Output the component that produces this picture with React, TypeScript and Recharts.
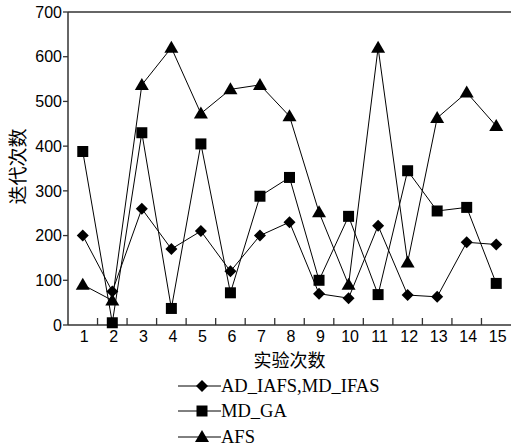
import { LineChart, Line, XAxis, YAxis, ReferenceLine, Legend, Label } from 'recharts';

const categories = ['1', '2', '3', '4', '5', '6', '7', '8', '9', '10', '11', '12', '13', '14', '15'];
const adIafs = [200, 75, 260, 170, 210, 120, 200, 230, 70, 60, 222, 67, 63, 185, 180];
const mdGa = [388, 5, 430, 37, 405, 72, 288, 330, 100, 243, 68, 345, 255, 263, 93];
const afs = [90, 55, 537, 620, 473, 527, 537, 467, 252, 90, 620, 140, 463, 520, 445];
const yTicks = [0, 100, 200, 300, 400, 500, 600, 700];

const seriesNames = ['AD_IAFS,MD_IFAS', 'MD_GA', 'AFS'];

const chartData = categories.map((c, i) => ({
  name: c,
  adIafs: adIafs[i],
  mdGa: mdGa[i],
  afs: afs[i],
}));

const W = 511;
const H = 447;
const margin = { top: 12, right: 0, left: 8, bottom: 98 };
const Y_AXIS_W = 60;
const BAND = (W - margin.left - Y_AXIS_W - margin.right) / categories.length;
const AXIS = '#333';
const SANS = '"Liberation Sans", Arial, sans-serif';
const SERIF = '"Liberation Serif", "Times New Roman", serif';
const CJK = '"Noto Sans CJK SC", sans-serif';

const shapePath = (kind: string, cx: number, cy: number) => {
  if (kind === 'diamond') {
    const r = 6;
    return `M${cx},${cy - r}L${cx + r},${cy}L${cx},${cy + r}L${cx - r},${cy}Z`;
  }
  if (kind === 'square') {
    const r = 5.5;
    return `M${cx - r},${cy - r}L${cx + r},${cy - r}L${cx + r},${cy + r}L${cx - r},${cy + r}Z`;
  }
  return `M${cx},${cy - 7}L${cx + 7},${cy + 5}L${cx - 7},${cy + 5}Z`;
};

const makeDot = (kind: string) => (props: any) => {
  const { cx, cy, index } = props;
  if (cx == null || cy == null) return <g key={index} />;
  return <path key={index} d={shapePath(kind, cx, cy)} fill="#000" stroke="none" />;
};

const XTick = (props: any) => {
  const { x, y, payload, index } = props;
  return (
    <g>
      <text x={x + 1.5} y={y + 11} dy="0.355em" textAnchor="middle" fontSize={16} fontFamily={SANS} fill="#000">
        {payload.value}
      </text>
      {index < categories.length - 1 && (
        <line x1={x + BAND / 2} x2={x + BAND / 2} y1={y} y2={y - 7} stroke={AXIS} strokeWidth={1.3} />
      )}
    </g>
  );
};

const kinds = ['diamond', 'square', 'triangle'];

const LegendContent = () => (
  <div>
    {seriesNames.map((n, i) => (
      <div key={n} style={{ display: 'flex', alignItems: 'center', height: 25.5 }}>
        <svg width={43} height={18}>
          <line x1={0} x2={43} y1={9} y2={9} stroke="#000" strokeWidth={1} />
          <path d={shapePath(kinds[i], 24, 9)} fill="#000" />
        </svg>
        <span style={{ fontFamily: SERIF, fontSize: 18.5, color: '#000', lineHeight: '18px' }}>{n}</span>
      </div>
    ))}
  </div>
);

const App = () => {
  return (
    <div style={{ position: 'absolute', left: 0, top: 0, width: W, height: H, background: '#fff' }}>
      <LineChart width={W} height={H} data={chartData} margin={margin}>
        <XAxis
          dataKey="name"
          scale="band"
          height={24}
          tickLine={false}
          tickSize={0}
          tickMargin={0}
          interval={0}
          tick={<XTick />}
          axisLine={{ stroke: AXIS, strokeWidth: 1.5 }}
        >
          <Label
            content={(p: any) => {
              const vb = p.viewBox;
              return (
                <text x={vb.x + vb.width / 2} y={vb.y + vb.height + 12} dy="0.355em" textAnchor="middle" fontSize={18} fontFamily={CJK} fill="#000">
                  实验次数
                </text>
              );
            }}
          />
        </XAxis>
        <YAxis
          width={Y_AXIS_W}
          domain={[0, 700]}
          ticks={yTicks}
          interval={0}
          tickSize={5}
          tickMargin={1}
          tick={{ fill: '#000', fontSize: 16, fontFamily: SANS }}
          tickLine={{ stroke: AXIS, strokeWidth: 1.3 }}
          axisLine={{ stroke: AXIS, strokeWidth: 1.5 }}
        >
          <Label
            content={(p: any) => {
              const vb = p.viewBox;
              const cx = vb.x + 10;
              const cy = vb.y + vb.height / 2 - 2;
              return (
                <text x={cx} y={cy} dy="0.355em" textAnchor="middle" fontSize={19} fontFamily={CJK} fill="#000" transform={`rotate(-90 ${cx} ${cy})`}>
                  迭代次数
                </text>
              );
            }}
          />
        </YAxis>
        <ReferenceLine y={700} stroke={AXIS} strokeWidth={1.5} />
        <Line dataKey="adIafs" name={seriesNames[0]} stroke="#000" strokeWidth={1} dot={makeDot('diamond')} activeDot={false} isAnimationActive={false} />
        <Line dataKey="mdGa" name={seriesNames[1]} stroke="#000" strokeWidth={1} dot={makeDot('square')} activeDot={false} isAnimationActive={false} />
        <Line dataKey="afs" name={seriesNames[2]} stroke="#000" strokeWidth={1} dot={makeDot('triangle')} activeDot={false} isAnimationActive={false} />
        <Legend
          layout="vertical"
          align="center"
          verticalAlign="middle"
          content={<LegendContent />}
          wrapperStyle={{ position: 'absolute', left: 178, top: 373, width: 260, height: 77 }}
        />
      </LineChart>
    </div>
  );
};

export default App;
